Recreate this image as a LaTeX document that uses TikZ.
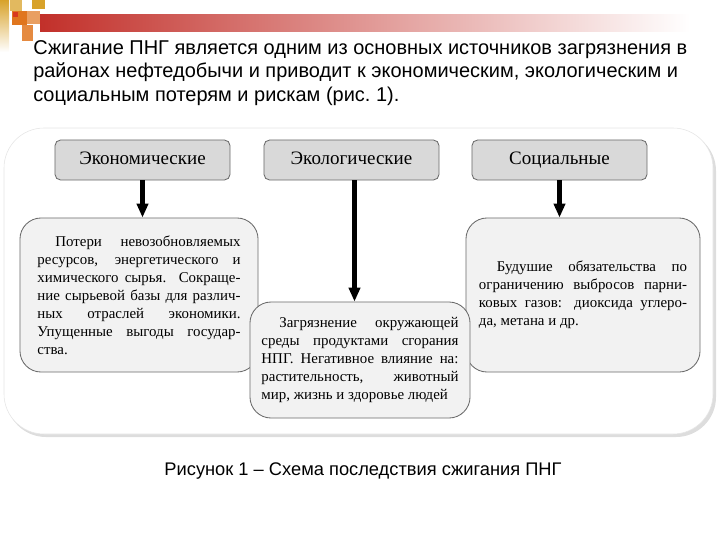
\documentclass[tikz,border=0pt]{standalone}
\usepackage{fontspec}
\setmainfont{Liberation Serif}
\newfontfamily\slidefont{Liberation Sans}
\usetikzlibrary{arrows.meta,positioning}
\definecolor{headfill}{HTML}{D9D9D9}
\definecolor{boxfill}{HTML}{F2F2F2}
\definecolor{edge}{HTML}{6A6A6A}
\definecolor{framegray}{HTML}{DDDDDD}
\definecolor{barred}{HTML}{C2302A}
\definecolor{barpink}{HTML}{E3A3A0}
\definecolor{gold}{HTML}{D8A22A}
\definecolor{amber}{HTML}{E0761E}
\definecolor{dotred}{HTML}{D8381E}
\tikzset{
  headbox/.style={rounded corners=4pt, draw=edge, fill=headfill, line width=.6pt,
    minimum width=4.375cm, minimum height=1cm, text height=1.6ex, text depth=.3ex,
    font=\fontsize{13.5}{15}\selectfont},
  textbox/.style={rounded corners=15pt, draw=edge, fill=boxfill, line width=.6pt,
    align=justify, inner sep=0pt, font=\fontsize{10.6}{12.8}\selectfont},
  down/.style={-{Triangle[length=10pt,width=8pt]}, line width=3.4pt},
  slidetext/.style={font=\slidefont\fontsize{14.2}{16.7}\selectfont, align=left}
}

\begin{document}
\begin{tikzpicture}[x=0.025cm,y=-0.025cm]
  \useasboundingbox (0,0) rectangle (720,540);
  % slide decoration
  \shade[top color=gold, bottom color=white] (0,0) rectangle (9,52);
  \fill[gold!75] (10,0) rectangle (22,11);
  \fill[amber] (12,11) rectangle (27,25);
  \fill[dotred] (13,12) rectangle (18,17);
  \fill[gold] (32,0) rectangle (45,9);
  \fill[amber!70] (27,11) rectangle (40,24);
  \fill[amber!85] (22,25) rectangle (33,41);
  \shade[left color=barred, middle color=barpink, right color=white] (40,14) rectangle (690,31);

  \node[slidetext, anchor=north west, inner sep=0pt] (intro) at (33,40)
    {Сжигание ПНГ является одним из основных источников загрязнения в\\
     районах нефтедобычи и приводит к экономическим, экологическим и\\
     социальным потерям и рискам (рис.~1).};

  % frame
  \fill[framegray, rounded corners=1cm] (6,131) rectangle (716,437);
  \draw[gray!20, fill=white, rounded corners=1cm] (4,128) rectangle (713,434);

  \node[headbox] (econ) at (142.5,160) {Экономические};
  \node[headbox] (ecol) at (351.5,160) {Экологические};
  \node[headbox] (soc) at (559.5,160) {Социальные};

  \node[textbox, minimum width=5.95cm, minimum height=3.85cm] (loss) at (139,295)
    {\parbox{5.075cm}{\parindent=1.2em Потери невозобновляемых\linebreak
     ресурсов, энергетического и\linebreak
     химического сырья. Сокраще-\linebreak
     ние сырьевой базы для различ-\linebreak
     ных отраслей экономики.\linebreak
     Упущенные выгоды государ-\linebreak
     ства.}};
  \node[textbox, minimum width=5.85cm, minimum height=3.85cm] (future) at (583,295)
    {\parbox{5.2cm}{\parindent=1.2em Будушие обязательства по\linebreak
     ограничению выбросов парни-\linebreak
     ковых газов: диоксида углеро-\linebreak
     да, метана и др.}};
  \node[textbox, minimum width=5.5cm, minimum height=2.9cm] (harm) at (360,360)
    {\parbox{4.925cm}{\parindent=1.2em Загрязнение окружающей\linebreak
     среды продуктами сгорания\linebreak
     НПГ. Негативное влияние на:\linebreak
     растительность, животный\linebreak
     мир, жизнь и здоровье людей}};

  \draw[down] (econ.south) -- (econ.south |- loss.north);
  \draw[down] (ecol.south) ++(3,0) coordinate (ecolfoot) -- (ecolfoot |- harm.north);
  \draw[down] (soc.south) -- (soc.south |- future.north);

  \node[font=\slidefont\fontsize{13}{15}\selectfont] (caption) at (363,471)
    {Рисунок 1 – Схема последствия сжигания ПНГ};
\end{tikzpicture}
\end{document}
